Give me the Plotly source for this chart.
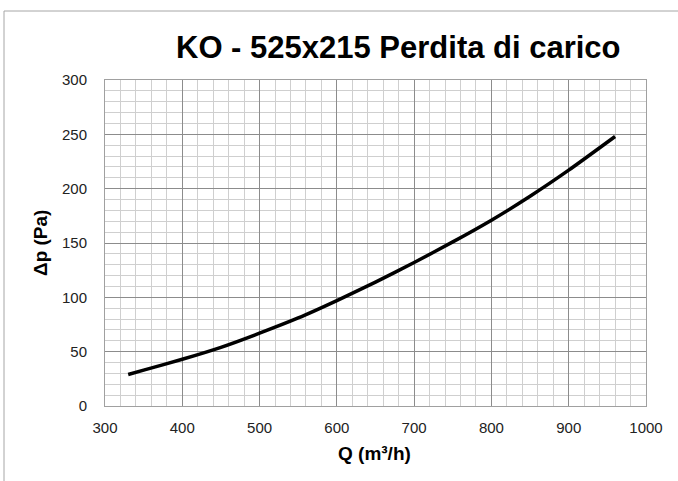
import plotly.graph_objects as go

flow_q = [330, 350, 400, 450, 500, 550, 600, 650, 700, 750, 800, 850, 900, 960]
pressure_drop = [29, 33, 43, 54, 67, 81, 97, 114, 132, 151, 171, 193, 217, 248]

x_ticks = [300, 400, 500, 600, 700, 800, 900, 1000]
y_ticks = [0, 50, 100, 150, 200, 250, 300]

title_text = "KO - 525x215 Perdita di carico"
x_title = "Q (m³/h)"
y_title = "Δp (Pa)"

fig = go.Figure()
fig.add_trace(go.Scatter(
    x=flow_q, y=pressure_drop, mode="lines",
    line=dict(color="black", width=3.5, shape="spline", smoothing=0.6),
    showlegend=False, hoverinfo="x+y",
))

L, R, T, B = 105, 32, 80, 75
W, H = 678, 481
pw, ph = W - L - R, H - T - B

FONT = "Liberation Sans, Arial, sans-serif"

axis_common = dict(
    showline=True, linecolor="#a0a0a0", linewidth=1, mirror=True,
    showgrid=True, gridcolor="#8c8c8c", gridwidth=1,
    zeroline=False,
    ticks="outside", tickcolor="rgba(0,0,0,0)",
    tickfont=dict(family=FONT, size=15, color="#222"),
)

fig.update_layout(
    width=W, height=H,
    margin=dict(l=L, r=R, t=T, b=B, pad=0),
    paper_bgcolor="white", plot_bgcolor="white",
    xaxis=dict(range=[300, 1000], tickvals=x_ticks, ticklen=8,
               minor=dict(dtick=20, tick0=300, showgrid=True, gridcolor="#cfcfcf", gridwidth=1),
               **axis_common),
    yaxis=dict(range=[0, 300], tickvals=y_ticks, ticklen=14,
               minor=dict(dtick=10, tick0=0, showgrid=True, gridcolor="#cfcfcf", gridwidth=1),
               **axis_common),
    annotations=[
        dict(text="<b>" + title_text + "</b>", xref="paper", yref="paper",
             x=(398 - L) / pw, y=(H - B - 48) / ph, showarrow=False,
             xanchor="center", yanchor="middle",
             font=dict(family=FONT, size=31, color="black")),
        dict(text="<b>" + x_title + "</b>", xref="paper", yref="paper",
             x=(374 - L) / pw, y=(H - B - 453) / ph, showarrow=False,
             xanchor="center", yanchor="middle",
             font=dict(family=FONT, size=19, color="black")),
        dict(text="<b>" + y_title + "</b>", xref="paper", yref="paper",
             x=(40 - L) / pw, y=(H - B - 243) / ph, showarrow=False, textangle=-90,
             xanchor="center", yanchor="middle",
             font=dict(family=FONT, size=19, color="black")),
    ],
    shapes=[
        dict(type="rect", xref="paper", yref="paper",
             x0=(4 - L) / pw, x1=(700 - L) / pw,
             y0=(H - B - 500) / ph, y1=(H - B - 11) / ph,
             line=dict(color="#a6a6a6", width=1), fillcolor="rgba(0,0,0,0)", layer="below"),
    ],
)

fig.write_html("out.html",
               config={"displayModeBar": False},
               post_script="document.body.style.margin='0';document.body.style.overflow='hidden';")
